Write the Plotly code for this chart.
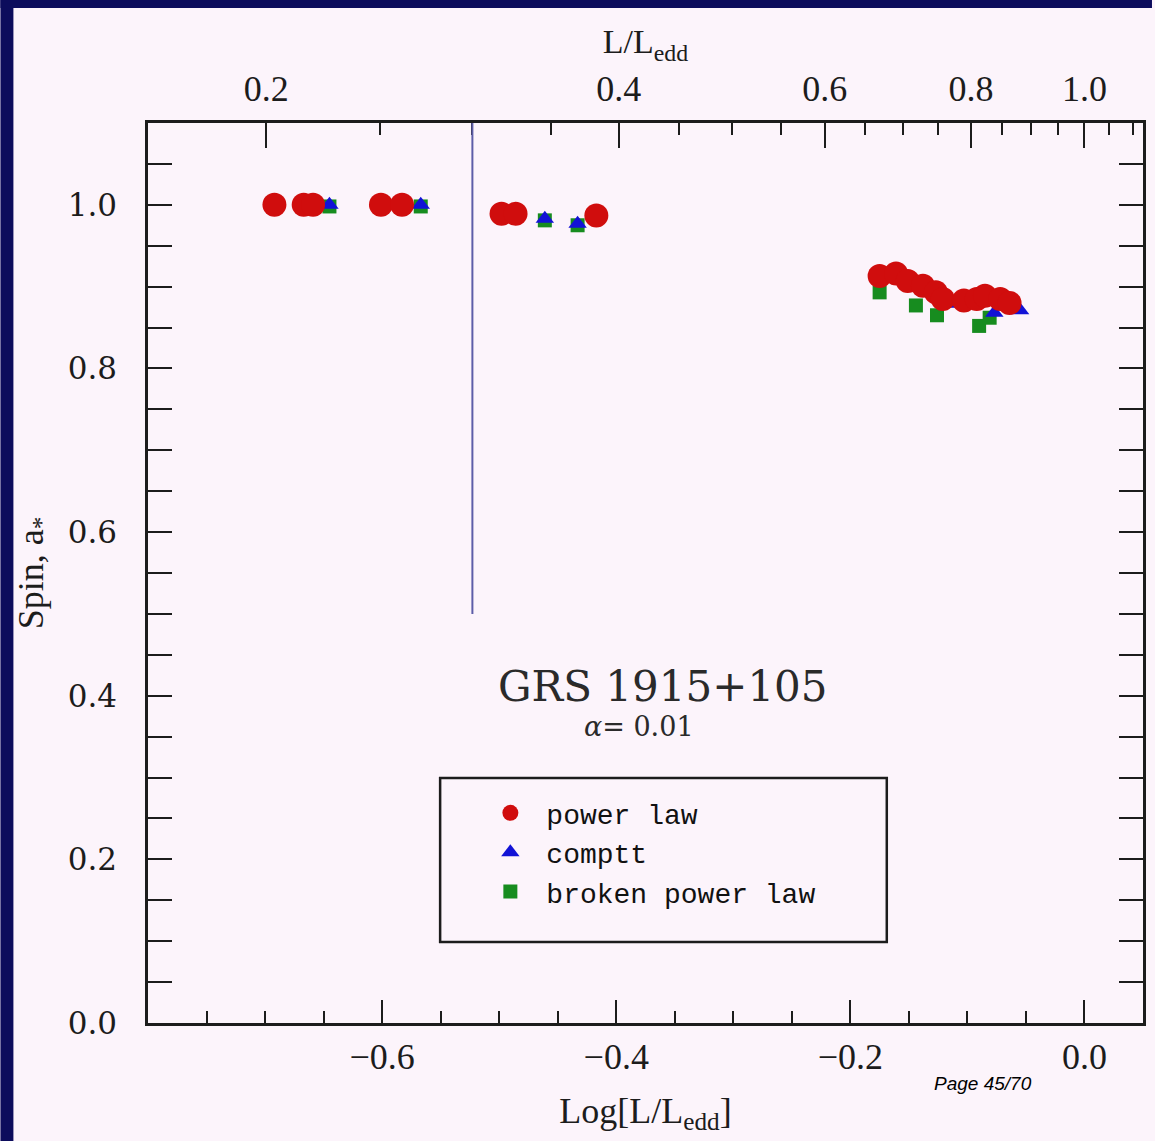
import numpy as np
import plotly.graph_objects as go

# Spin estimates of GRS 1915+105 against log luminosity (alpha = 0.01)
power_law_log_l = [-0.692, -0.667, -0.659, -0.601, -0.583,
                   -0.498, -0.486, -0.417,
                   -0.175, -0.161, -0.151, -0.138, -0.127, -0.121,
                   -0.103, -0.092, -0.085, -0.072, -0.064]
power_law_spin = [1.000, 1.000, 1.000, 1.000, 1.000,
                  0.989, 0.989, 0.987,
                  0.913, 0.916, 0.907, 0.901, 0.893, 0.885,
                  0.883, 0.885, 0.889, 0.885, 0.880]

comptt_log_l = [-0.645, -0.567, -0.498, -0.461, -0.433, -0.115, -0.077, -0.055]
comptt_spin = [1.000, 1.000, 0.990, 0.983, 0.977, 0.879, 0.868, 0.871]

broken_log_l = [-0.645, -0.567, -0.461, -0.433, -0.175, -0.144, -0.126, -0.090, -0.081]
broken_spin = [0.998, 0.998, 0.981, 0.975, 0.893, 0.877, 0.865, 0.852, 0.862]

# Upper axis: linear L/Ledd values placed on the log scale
top_major_ratios = [0.2, 0.4, 0.6, 0.8, 1.0]
top_major_labels = ["0.2", "0.4", "0.6", "0.8", "1.0"]
top_minor_ratios = [0.25, 0.3, 0.35, 0.45, 0.5, 0.55, 0.65, 0.7, 0.75,
                    0.85, 0.9, 0.95, 1.05, 1.1]

bottom_major_ticks = [-0.6, -0.4, -0.2, 0.0]
spin_major_ticks = [0.0, 0.2, 0.4, 0.6, 0.8, 1.0]

# Marker line at L/Ledd = 0.3, spanning the upper half of the spin axis
threshold_ratio = 0.3
threshold_spin_range = [0.5, 1.1]

x_range = [-0.8, 0.05]
y_range = [0.0, 1.1]

BG = "#fcf4fb"
INK = "#1c1c1c"
NAVY = "#0c0c5c"
AX_FONT = "Liberation Serif"
Y_FONT = "DejaVu Serif"

fig = go.Figure()

fig.add_trace(go.Scatter(
    x=broken_log_l, y=broken_spin, mode="markers", name="broken power law",
    legendrank=3,
    marker=dict(symbol="square", size=14, color="#178c1f", line=dict(width=0)),
))
fig.add_trace(go.Scatter(
    x=comptt_log_l, y=comptt_spin, mode="markers", name="comptt",
    legendrank=2,
    marker=dict(symbol="triangle-up", size=16, color="#1212d6", line=dict(width=0)),
))
fig.add_trace(go.Scatter(
    x=power_law_log_l, y=power_law_spin, mode="markers", name="power law",
    legendrank=1,
    marker=dict(symbol="circle", size=24, color="#d00d0d", line=dict(width=0)),
))

tick_common = dict(
    ticks="inside", tickcolor=INK, tickwidth=2,
    showgrid=False, zeroline=False,
)

fig.update_layout(
    width=1155, height=1141,
    margin=dict(l=148, r=9, t=123, b=118),
    paper_bgcolor=BG, plot_bgcolor=BG,
    showlegend=True,
    legend=dict(
        x=0.328, y=0.261, xanchor="left", yanchor="top",
        bgcolor="rgba(0,0,0,0)", borderwidth=0,
        font=dict(family="Liberation Mono", size=28, color="#111111"),
        itemwidth=62, tracegroupgap=0,
    ),
    xaxis=dict(
        range=x_range, side="bottom",
        tickmode="array", tickvals=bottom_major_ticks,
        ticktext=[f"{v:.1f}".replace("-", "\u2212") for v in bottom_major_ticks],
        ticklen=23,
        minor=dict(dtick=0.05, tick0=0.0, ticks="inside", ticklen=12,
                   tickcolor=INK, tickwidth=2),
        tickfont=dict(family=AX_FONT, size=36, color=INK),
        ticklabelstandoff=0,
        showline=True, linecolor=INK, linewidth=2.5,
        title=dict(text="Log[L/L<sub>edd</sub>]", standoff=22,
                   font=dict(family=AX_FONT, size=36, color=INK)),
        **tick_common,
    ),
    # Upper axis: labelled major ticks in L/Ledd
    xaxis2=dict(
        range=x_range, overlaying="x", side="top",
        tickmode="array", tickvals=list(np.log10(top_major_ratios)),
        ticktext=top_major_labels,
        ticklen=25,
        tickfont=dict(family=AX_FONT, size=36, color=INK),
        ticklabelstandoff=5,
        showline=True, linecolor=INK, linewidth=2.5,
        title=dict(text="L/L<sub>edd</sub>", standoff=5,
                   font=dict(family=AX_FONT, size=34, color=INK)),
        **tick_common,
    ),
    # Upper axis: unlabelled minor ticks in L/Ledd
    xaxis3=dict(
        range=x_range, overlaying="x", side="top",
        tickmode="array", tickvals=list(np.log10(top_minor_ratios)),
        showticklabels=False, ticklen=12, showline=False,
        **tick_common,
    ),
    yaxis=dict(
        range=y_range, mirror="allticks",
        tickmode="array", tickvals=spin_major_ticks,
        ticktext=[f"{v:.1f}" for v in spin_major_ticks],
        ticklen=24,
        minor=dict(dtick=0.05, tick0=0.0, ticks="inside", ticklen=12,
                   tickcolor=INK, tickwidth=2),
        tickfont=dict(family=Y_FONT, size=31, color=INK),
        ticklabelstandoff=22,
        showline=True, linecolor=INK, linewidth=2.5,
        title=dict(text="Spin, a<sub>*</sub>", standoff=14,
                   font=dict(family=AX_FONT, size=36, color=INK)),
        **tick_common,
    ),
)

# Keep the upper axes drawn even though no visible trace is bound to them
for ax in ("x2", "x3"):
    fig.add_trace(go.Scatter(x=[x_range[0]], y=[y_range[0]], xaxis=ax,
                             mode="markers", marker=dict(opacity=0),
                             showlegend=False, hoverinfo="skip"))

# Vertical marker at L/Ledd = 0.3
thr = float(np.log10(threshold_ratio))
fig.add_shape(type="line", xref="x", yref="y",
              x0=thr, x1=thr, y0=threshold_spin_range[0], y1=threshold_spin_range[1],
              line=dict(color="#5d5da8", width=2))

# Legend frame
fig.add_shape(type="rect", xref="paper", yref="paper",
              x0=0.2936, x1=0.7425, y0=0.090, y1=0.2722,
              line=dict(color=INK, width=2.5), fillcolor="rgba(0,0,0,0)")

# Source label
fig.add_annotation(text="GRS 1915+105", xref="paper", yref="paper",
                   x=0.518, y=0.374, xanchor="center", yanchor="middle",
                   showarrow=False,
                   font=dict(family=Y_FONT, size=42, color="#2a2a2a"))
fig.add_annotation(text="<i>α</i>= 0.01", xref="paper", yref="paper",
                   x=0.493, y=0.329, xanchor="center", yanchor="middle",
                   showarrow=False,
                   font=dict(family=Y_FONT, size=27, color="#2a2a2a"))

# Slide page number
fig.add_annotation(text="<i>Page 45/70</i>", xref="paper", yref="paper",
                   x=0.8387, y=-0.0667, xanchor="center", yanchor="middle",
                   showarrow=False,
                   font=dict(family="Liberation Sans", size=19, color="#000000"))

# Slide frame: dark bands along the top and left edges
px_x = lambda p: (p - 148) / 998
px_y = lambda p: (1023 - p) / 900
fig.add_shape(type="rect", xref="paper", yref="paper", layer="above",
              x0=px_x(0), x1=px_x(13), y0=px_y(1141), y1=px_y(0),
              line=dict(width=0), fillcolor=NAVY)
fig.add_shape(type="rect", xref="paper", yref="paper", layer="above",
              x0=px_x(0), x1=px_x(1155), y0=px_y(8), y1=px_y(0),
              line=dict(width=0), fillcolor=NAVY)

fig.write_html("out.html")
